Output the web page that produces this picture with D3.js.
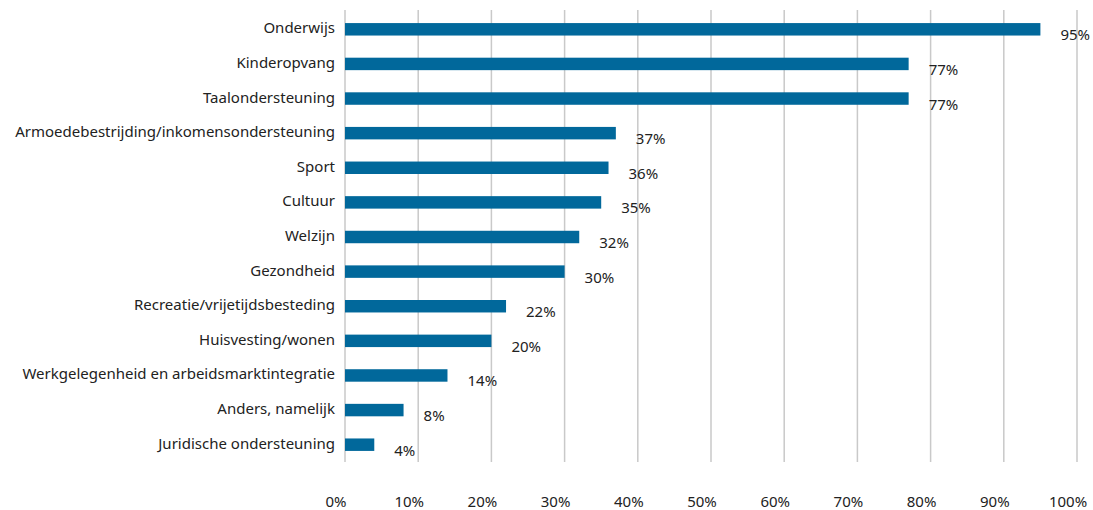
<!DOCTYPE html>
<html>
<head>
<meta charset="utf-8">
<script src="https://cdn.jsdelivr.net/npm/d3@7"></script>
<style>
  body { margin: 0; background: #fff; }
  text { font-family: "Noto Sans", "Open Sans", sans-serif; fill: #222; }
</style>
</head>
<body>
<svg id="chart"></svg>
<script>
const categories = ['Onderwijs', 'Kinderopvang', 'Taalondersteuning',
  'Armoedebestrijding/inkomensondersteuning', 'Sport', 'Cultuur', 'Welzijn',
  'Gezondheid', 'Recreatie/vrijetijdsbesteding', 'Huisvesting/wonen',
  'Werkgelegenheid en arbeidsmarktintegratie', 'Anders, namelijk',
  'Juridische ondersteuning']
const values = [95, 77, 77, 37, 36, 35, 32, 30, 22, 20, 14, 8, 4]
const xTicks = [0, 10, 20, 30, 40, 50, 60, 70, 80, 90, 100]

const width = 1093, height = 510
const margin = {top: 12, right: 16, bottom: 48, left: 345}

const svg = d3.select('#chart')
  .attr('width', width)
  .attr('height', height)

const x = d3.scaleLinear()
  .domain([0, 100])
  .range([margin.left, width - margin.right])

const y = d3.scaleBand()
  .domain(categories)
  .range([margin.top, height - margin.bottom])
  .paddingInner(0.64)
  .paddingOuter(0.32)

// gridlines
svg.append('g')
  .selectAll('line')
  .data(xTicks)
  .enter().append('line')
  .attr('x1', d => x(d))
  .attr('x2', d => x(d))
  .attr('y1', 10)
  .attr('y2', height - margin.bottom)
  .attr('stroke', '#c9c9c9')
  .attr('stroke-width', 1.5)

// x tick labels (sit a bit left of their gridline, as in the original)
svg.append('g')
  .selectAll('text')
  .data(xTicks)
  .enter().append('text')
  .attr('x', d => x(d) - 9)
  .attr('y', 503)
  .attr('text-anchor', 'middle')
  .attr('dominant-baseline', 'middle')
  .style('font-size', '15px')
  .text(d => d + '%')

// bars
svg.append('g')
  .selectAll('rect')
  .data(values)
  .enter().append('rect')
  .attr('x', x(0))
  .attr('y', (d, i) => y(categories[i]))
  .attr('width', d => x(d) - x(0))
  .attr('height', y.bandwidth())
  .attr('fill', '#01689b')

// category labels
svg.append('g')
  .selectAll('text')
  .data(categories)
  .enter().append('text')
  .attr('x', margin.left - 10)
  .attr('y', d => y(d) + y.bandwidth() / 2)
  .attr('text-anchor', 'end')
  .attr('dominant-baseline', 'middle')
  .style('font-size', '15px')
  .text(d => d)

// value labels
svg.append('g')
  .selectAll('text')
  .data(values)
  .enter().append('text')
  .attr('x', d => x(d) + 20)
  .attr('y', (d, i) => y(categories[i]) + y.bandwidth() / 2 + 7)
  .attr('dominant-baseline', 'middle')
  .style('font-size', '15px')
  .text(d => d + '%')
</script>
</body>
</html>
